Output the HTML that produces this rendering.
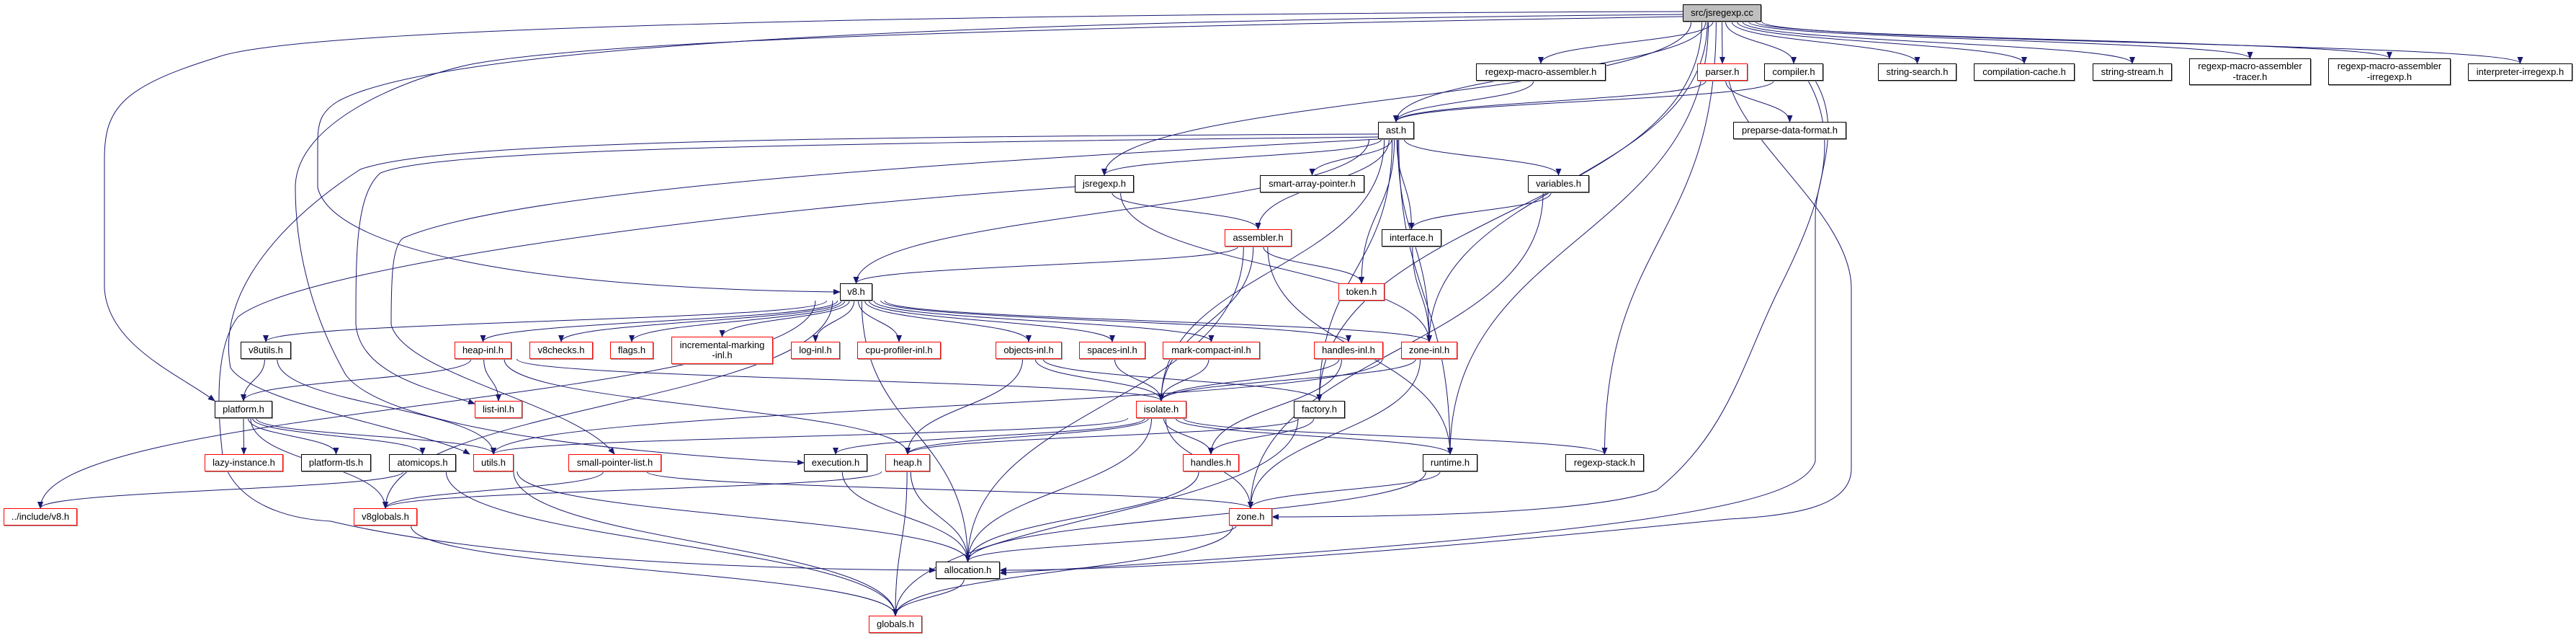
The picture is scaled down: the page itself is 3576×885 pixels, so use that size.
<!DOCTYPE html>
<html><head><meta charset="utf-8"><style>
html,body{margin:0;padding:0;background:#fff;}
body{width:3576px;height:885px;position:relative;overflow:hidden;font-family:"Liberation Sans",Arial,sans-serif;}
.n{position:absolute;box-sizing:border-box;border:1px solid #000;background:#fff;font-size:13px;line-height:1.1;display:flex;align-items:center;justify-content:center;text-align:center;color:#000;box-shadow:1px 1px 0 #999;}
.r{border-color:#ff0000;}
.g{background:#bfbfbf;}
svg{position:absolute;left:0;top:0;}
</style></head><body>
<svg id="s" width="3576" height="885">
<defs><marker id="a" markerWidth="10" markerHeight="8" refX="9" refY="4" orient="auto" markerUnits="userSpaceOnUse"><path d="M0,0 L10,4 L0,8 z" fill="#191970"/></marker></defs>
<g id="e" fill="none" stroke="#191970" stroke-width="1"></g>
</svg>
<div class="n g" id="root" style="left:2336px;top:6px;width:109px;height:24px">src/jsregexp.cc</div>
<div class="n" id="rmah" style="left:2049px;top:88px;width:180px;height:24px">regexp-macro-assembler.h</div>
<div class="n r" id="parser" style="left:2356px;top:88px;width:70px;height:24px">parser.h</div>
<div class="n" id="compiler" style="left:2449px;top:88px;width:82px;height:24px">compiler.h</div>
<div class="n" id="ss" style="left:2607px;top:88px;width:109px;height:24px">string-search.h</div>
<div class="n" id="cc" style="left:2740px;top:88px;width:140px;height:24px">compilation-cache.h</div>
<div class="n" id="sst" style="left:2905px;top:88px;width:110px;height:24px">string-stream.h</div>
<div class="n" id="tr" style="left:3039px;top:81px;width:169px;height:37px">regexp-macro-assembler<br>-tracer.h</div>
<div class="n" id="irr" style="left:3232px;top:81px;width:170px;height:37px">regexp-macro-assembler<br>-irregexp.h</div>
<div class="n" id="interp" style="left:3426px;top:88px;width:145px;height:24px">interpreter-irregexp.h</div>
<div class="n" id="ast" style="left:1913px;top:169px;width:50px;height:24px">ast.h</div>
<div class="n" id="pdf" style="left:2406px;top:169px;width:157px;height:24px">preparse-data-format.h</div>
<div class="n" id="jsr" style="left:1492px;top:243px;width:82px;height:24px">jsregexp.h</div>
<div class="n" id="sap" style="left:1749px;top:243px;width:145px;height:24px">smart-array-pointer.h</div>
<div class="n" id="var" style="left:2121px;top:243px;width:85px;height:24px">variables.h</div>
<div class="n r" id="asm" style="left:1700px;top:318px;width:93px;height:24px">assembler.h</div>
<div class="n" id="intf" style="left:1918px;top:318px;width:83px;height:24px">interface.h</div>
<div class="n r" id="tok" style="left:1858px;top:393px;width:64px;height:24px">token.h</div>
<div class="n" id="v8" style="left:1166px;top:393px;width:45px;height:24px">v8.h</div>
<div class="n" id="v8u" style="left:334px;top:474px;width:70px;height:24px">v8utils.h</div>
<div class="n r" id="hinl" style="left:631px;top:474px;width:79px;height:24px">heap-inl.h</div>
<div class="n r" id="v8c" style="left:735px;top:474px;width:88px;height:24px">v8checks.h</div>
<div class="n r" id="flags" style="left:847px;top:474px;width:60px;height:24px">flags.h</div>
<div class="n r" id="imi" style="left:932px;top:467px;width:141px;height:38px">incremental-marking<br>-inl.h</div>
<div class="n r" id="log" style="left:1098px;top:474px;width:68px;height:24px">log-inl.h</div>
<div class="n r" id="cpu" style="left:1190px;top:474px;width:116px;height:24px">cpu-profiler-inl.h</div>
<div class="n r" id="oinl" style="left:1382px;top:474px;width:92px;height:24px">objects-inl.h</div>
<div class="n r" id="sinl" style="left:1498px;top:474px;width:92px;height:24px">spaces-inl.h</div>
<div class="n r" id="mci" style="left:1614px;top:474px;width:135px;height:24px">mark-compact-inl.h</div>
<div class="n r" id="hdi" style="left:1824px;top:474px;width:96px;height:24px">handles-inl.h</div>
<div class="n r" id="zinl" style="left:1945px;top:474px;width:78px;height:24px">zone-inl.h</div>
<div class="n" id="plat" style="left:298px;top:556px;width:80px;height:24px">platform.h</div>
<div class="n r" id="linl" style="left:659px;top:556px;width:66px;height:24px">list-inl.h</div>
<div class="n r" id="iso" style="left:1577px;top:556px;width:70px;height:24px">isolate.h</div>
<div class="n" id="fac" style="left:1796px;top:556px;width:71px;height:24px">factory.h</div>
<div class="n r" id="lazy" style="left:284px;top:630px;width:109px;height:24px">lazy-instance.h</div>
<div class="n" id="ptls" style="left:418px;top:630px;width:97px;height:24px">platform-tls.h</div>
<div class="n" id="atom" style="left:540px;top:630px;width:93px;height:24px">atomicops.h</div>
<div class="n r" id="utils" style="left:657px;top:630px;width:56px;height:24px">utils.h</div>
<div class="n r" id="spl" style="left:789px;top:630px;width:129px;height:24px">small-pointer-list.h</div>
<div class="n" id="exe" style="left:1116px;top:630px;width:88px;height:24px">execution.h</div>
<div class="n r" id="heap" style="left:1229px;top:630px;width:62px;height:24px">heap.h</div>
<div class="n r" id="hdl" style="left:1642px;top:630px;width:78px;height:24px">handles.h</div>
<div class="n" id="rt" style="left:1975px;top:630px;width:76px;height:24px">runtime.h</div>
<div class="n" id="rs" style="left:2173px;top:630px;width:109px;height:24px">regexp-stack.h</div>
<div class="n r" id="iv8" style="left:5px;top:705px;width:102px;height:24px">../include/v8.h</div>
<div class="n r" id="v8g" style="left:491px;top:705px;width:88px;height:24px">v8globals.h</div>
<div class="n r" id="zone" style="left:1706px;top:705px;width:60px;height:24px">zone.h</div>
<div class="n" id="alloc" style="left:1299px;top:779px;width:89px;height:24px">allocation.h</div>
<div class="n r" id="glob" style="left:1206px;top:854px;width:74px;height:24px">globals.h</div>
<script>
var E=[
["root","rmah"],["root","parser"],["root","compiler"],["root","ss"],["root","cc"],["root","sst"],["root","tr"],["root","irr"],["root","interp"],["root","ast"],["root","jsr"],["root","v8"],["root","plat"],["root","exe"],["root","fac"],["root","rt"],["root","rs"],["root","zinl"],
["rmah","ast"],["parser","ast"],["parser","pdf"],["parser","alloc"],["compiler","ast"],["compiler","zone"],["compiler","alloc"],
["ast","jsr"],["ast","sap"],["ast","var"],["ast","asm"],["ast","intf"],["ast","tok"],["ast","zinl"],["ast","v8"],["ast","fac"],["ast","rt"],["ast","linl"],["ast","utils"],["ast","spl"],["ast","iso"],
["jsr","asm"],["jsr","zinl"],["jsr","alloc"],["var","intf"],["var","zone"],["intf","zinl"],
["asm","v8"],["asm","tok"],["asm","iso"],["asm","rt"],["asm","alloc"],
["v8","v8u"],["v8","hinl"],["v8","v8c"],["v8","flags"],["v8","imi"],["v8","log"],["v8","cpu"],["v8","oinl"],["v8","sinl"],["v8","mci"],["v8","hdi"],["v8","zinl"],["v8","iv8"],["v8","v8g"],["v8","alloc"],
["v8u","plat"],["v8u","utils"],["hinl","plat"],["hinl","linl"],["hinl","iso"],["hinl","heap"],
["oinl","iso"],["oinl","heap"],["oinl","fac"],["sinl","iso"],["mci","iso"],["hdi","iso"],["hdi","hdl"],["zinl","iso"],["zinl","zone"],["zinl","utils"],
["iso","heap"],["iso","hdl"],["iso","zone"],["iso","rt"],["iso","rs"],["iso","alloc"],["iso","utils"],["iso","exe"],
["fac","heap"],["fac","hdl"],["fac","glob"],
["plat","lazy"],["plat","ptls"],["plat","atom"],["plat","utils"],["plat","v8g"],
["atom","iv8"],["atom","glob"],["utils","alloc"],["utils","glob"],["spl","v8g"],["spl","zone"],["exe","alloc"],
["heap","v8g"],["heap","alloc"],["heap","glob"],["hdl","alloc"],["rt","zone"],["rt","alloc"],["zone","alloc"],["zone","glob"],["alloc","glob"],["v8g","glob"]
];
var C={
"root-plat":"M2336,16 C1200,20 400,40 300,80 C170,120 145,150 145,220 L145,400 C150,480 250,520 298,556",
"root-v8":"M2336,20 C1200,30 600,70 470,140 C445,155 441,170 441,200 L441,260 C460,340 700,400 1166,405",
"root-exe":"M2336,23 C1300,40 800,60 650,90 C560,110 410,170 410,260 C410,360 440,450 480,520 C540,600 900,630 1116,642",
"ast-utils":"M1913,186 C1000,190 600,200 500,235 C400,300 300,400 320,510 C350,560 600,600 652,630",
"ast-linl":"M1913,190 C1000,200 600,210 528,240 C494,270 494,350 494,450 C500,520 600,540 659,560",
"ast-spl":"M1913,193 C1200,230 700,270 560,330 C545,340 543,380 543,450 C560,520 800,560 853,630",
"jsr-alloc":"M1492,259 C900,300 400,380 330,440 C300,480 300,560 310,640 C330,700 400,720 459,723 C700,780 1100,790 1299,791",
"compiler-zone":"M2510,112 C2560,200 2520,300 2470,400 C2420,500 2400,600 2300,680 C2200,715 1900,717 1766,717",
"parser-alloc":"M2400,112 C2420,200 2570,300 2570,400 L2570,650 C2570,700 2500,715 2400,720 C2200,740 1700,790 1388,791",
"compiler-alloc":"M2520,112 C2560,180 2520,250 2520,300 L2520,640 C2500,700 2300,740 1388,795"
};
function b(id){var e=document.getElementById(id);return {x:e.offsetLeft,y:e.offsetTop,w:e.offsetWidth,h:e.offsetHeight};}
var g=document.getElementById("e"),h="";
E.forEach(function(p){var k=p[0]+"-"+p[1];if(C[k]){h+='<path d="'+C[k]+'" marker-end="url(#a)"/>';return;}
var s=b(p[0]),t=b(p[1]);var sx,sy,tx,ty,d;
var scx=s.x+s.w/2,tcx=t.x+t.w/2;
if(t.y>s.y+s.h){sx=scx+(tcx-scx)*0.05;sy=s.y+s.h;tx=tcx;ty=t.y;var dy=ty-sy;
d="M"+sx+","+sy+" C"+sx+","+(sy+dy*0.5)+" "+tx+","+(ty-dy*0.5)+" "+tx+","+ty;}
else{sy=s.y+s.h/2;ty=t.y+t.h/2;if(tcx>scx){sx=s.x+s.w;tx=t.x;}else{sx=s.x;tx=t.x+t.w;}
d="M"+sx+","+sy+" C"+((sx+tx)/2)+","+sy+" "+((sx+tx)/2)+","+ty+" "+tx+","+ty;}
h+='<path d="'+d+'" marker-end="url(#a)"/>';});
g.innerHTML=h;
</script>
</body></html>
